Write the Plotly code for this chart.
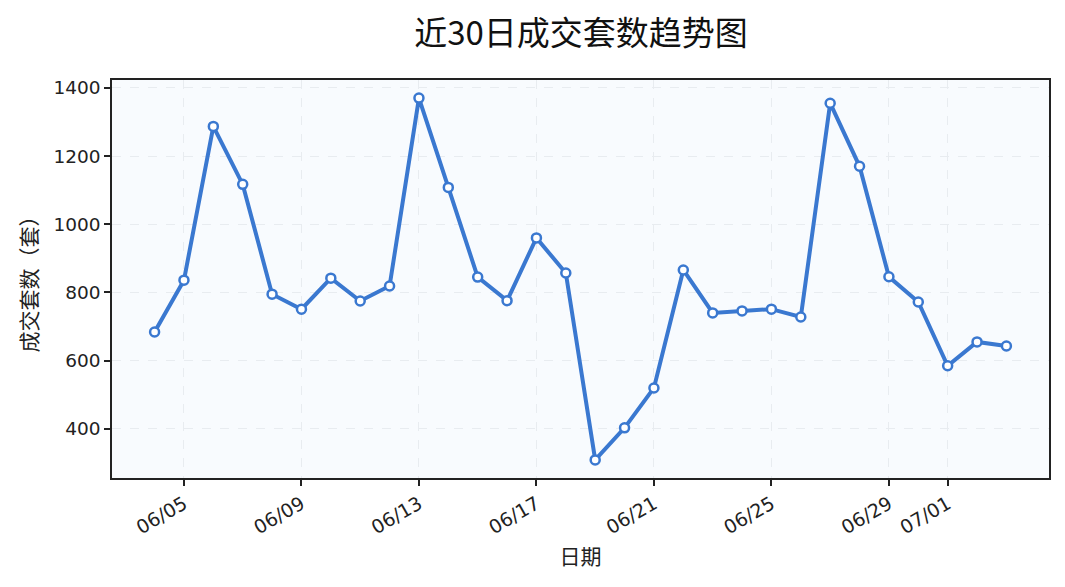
import plotly.graph_objects as go
import pandas as pd

dates = ["2024-06-04", "2024-06-05", "2024-06-06", "2024-06-07", "2024-06-08", "2024-06-09",
         "2024-06-10", "2024-06-11", "2024-06-12", "2024-06-13", "2024-06-14", "2024-06-15",
         "2024-06-16", "2024-06-17", "2024-06-18", "2024-06-19", "2024-06-20", "2024-06-21",
         "2024-06-22", "2024-06-23", "2024-06-24", "2024-06-25", "2024-06-26", "2024-06-27",
         "2024-06-28", "2024-06-29", "2024-06-30", "2024-07-01", "2024-07-02", "2024-07-03"]
volumes = [684, 836, 1287, 1117, 795, 751, 842, 775, 819, 1370, 1108, 845,
           776, 960, 857, 309, 403, 520, 866, 740, 746, 751, 728, 1355,
           1170, 846, 772, 585, 655, 643]
tick_dates = ["2024-06-05", "2024-06-09", "2024-06-13", "2024-06-17",
              "2024-06-21", "2024-06-25", "2024-06-29", "2024-07-01"]
tick_labels = ["06/05", "06/09", "06/13", "06/17", "06/21", "06/25", "06/29", "07/01"]

d = pd.to_datetime(dates)
span = (d.max() - d.min())
xr = [d.min() - span * 0.05, d.max() + span * 0.05]
vmin, vmax = min(volumes), max(volumes)
yr = [vmin - 0.05 * (vmax - vmin), vmax + 0.05 * (vmax - vmin)]

font = "Noto Sans CJK SC, DejaVu Sans, sans-serif"
tickfont = "DejaVu Sans, Noto Sans CJK SC, sans-serif"

# page body has an 8px margin; figure is sized to fit the 1065x587 window
W, H = 1057, 579

fig = go.Figure(go.Scatter(
    x=dates, y=volumes, mode="lines+markers",
    line=dict(color="#3a78d0", width=4),
    marker=dict(size=9, color="white", line=dict(color="#3a78d0", width=2.5)),
))

fig.update_layout(
    width=W, height=H, autosize=False,
    margin=dict(l=104, r=16, t=72, b=109),
    paper_bgcolor="white", plot_bgcolor="#f8fbfe",
    showlegend=False,
    title=dict(text="近30日成交套数趋势图", x=573 / W, xanchor="center",
               y=1 - 25 / H, yanchor="middle",
               font=dict(family=font, size=33, color="#111")),
)
fig.update_xaxes(
    type="date", range=[x.strftime("%Y-%m-%d %H:%M") for x in xr],
    tickvals=tick_dates, ticktext=tick_labels, tickangle=-30,
    tickfont=dict(family=tickfont, size=19, color="#222"),
    ticks="outside", ticklen=6, tickwidth=1.5, tickcolor="#222",
    showline=True, linewidth=1.5, linecolor="#222", mirror=True,
    showgrid=True, gridcolor="#e8ecf0", griddash="dash", gridwidth=1,
    title=dict(text="日期", font=dict(family=font, size=21, color="#222"), standoff=12),
    zeroline=False,
)
fig.update_yaxes(
    range=yr, tickvals=[400, 600, 800, 1000, 1200, 1400],
    tickfont=dict(family=tickfont, size=18.5, color="#222"),
    ticks="outside", ticklen=6, tickwidth=1.5, tickcolor="#222",
    showline=True, linewidth=1.5, linecolor="#222", mirror=True,
    showgrid=True, gridcolor="#e8ecf0", griddash="dash", gridwidth=1,
    title=dict(text="成交套数（套）", font=dict(family=font, size=21, color="#222"), standoff=10),
    zeroline=False,
)

fig.write_html("out.html")
